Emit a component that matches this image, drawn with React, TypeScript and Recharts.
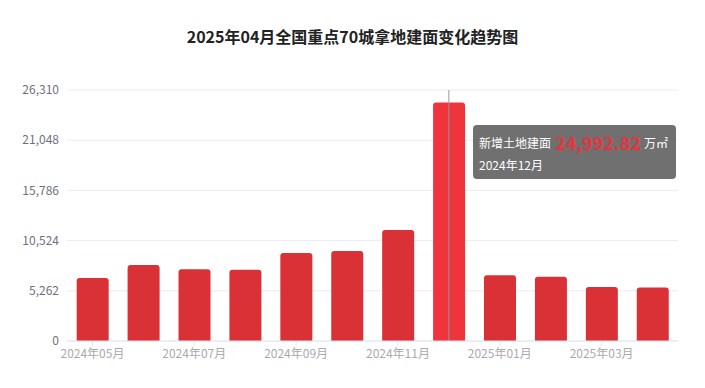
import React from 'react';
import { BarChart, Bar, XAxis, YAxis, CartesianGrid, Tooltip, Cell, ReferenceLine } from 'recharts';

// 月份与新增土地建面（万㎡）
const months = [
  '2024年05月', '2024年06月', '2024年07月', '2024年08月', '2024年09月', '2024年10月',
  '2024年11月', '2024年12月', '2025年01月', '2025年02月', '2025年03月', '2025年04月',
];
const areas = [6600, 7960, 7510, 7480, 9220, 9430, 11630, 24992.82, 6880, 6740, 5660, 5620];
const yTicks = [0, 5262, 10524, 15786, 21048, 26310];

const activeIndex = 7;
const FONT = '"Noto Sans CJK SC", "Noto Sans", sans-serif';

const data = months.map((m, i) => ({ month: m, value: areas[i] }));

const TipContent = ({ active, payload }: any) => {
  if (!active || !payload || !payload.length) return null;
  const item = payload[0].payload;
  return (
    <div
      style={{
        background: '#707070',
        borderRadius: 4,
        padding: '7px 6px 6px 6px',
        color: '#fff',
        fontFamily: FONT,
        whiteSpace: 'nowrap',
        width: 191,
      }}
    >
      <div style={{ display: 'flex', alignItems: 'center', height: 20 }}>
        <span style={{ fontSize: 12 }}>新增土地建面</span>
        <span style={{ fontSize: 18, fontWeight: 700, color: '#e8333b', margin: '0 3px 0 4px', lineHeight: '20px' }}>
          {item.value.toLocaleString('en-US', { minimumFractionDigits: 2 })}
        </span>
        <span style={{ fontSize: 12 }}>万㎡</span>
      </div>
      <div style={{ fontSize: 12, marginTop: 5, lineHeight: '16px' }}>{item.month}</div>
    </div>
  );
};

export default function App() {
  return (
    <div style={{ position: 'absolute', left: 0, top: 0, width: 705, height: 388, background: '#fff' }}>
      <div
        style={{
          position: 'absolute',
          top: 24,
          left: 0,
          width: 705,
          textAlign: 'center',
          fontFamily: FONT,
          fontSize: 16,
          fontWeight: 700,
          color: '#222',
          lineHeight: '24px',
        }}
      >
        2025年04月全国重点70城拿地建面变化趋势图
      </div>
      <BarChart
        width={705}
        height={388}
        data={data}
        margin={{ top: 90, right: 27, left: 0, bottom: 17 }}
        barCategoryGap="19%"
        style={{ fontFamily: FONT }}
      >
        <CartesianGrid vertical={false} stroke="#e9ecf3" />
        <XAxis
          dataKey="month"
          interval={1}
          height={30}
          axisLine={{ stroke: '#e0e6f1' }}
          tickLine={{ stroke: '#e0e6f1' }}
          tickSize={5}
          tickMargin={3}
          tick={{ fill: '#aaaaaa', fontSize: 12 }}
        />
        <YAxis
          width={67}
          domain={[0, 26310]}
          ticks={yTicks}
          axisLine={false}
          tickLine={false}
          tickSize={0}
          tickMargin={8}
          tickFormatter={(v: number) => v.toLocaleString('en-US')}
          tick={{ fill: '#6e7079', fontSize: 12 }}
        />
        <Tooltip
          active
          defaultIndex={activeIndex}
          cursor={false}
          content={<TipContent />}
          position={{ x: 473, y: 125 }}
          isAnimationActive={false}
          wrapperStyle={{ outline: 'none' }}
        />
        <Bar dataKey="value" radius={[3, 3, 0, 0]} isAnimationActive={false} activeBar={false}>
          {data.map((d, i) => (
            <Cell key={d.month} fill={i === activeIndex ? '#ee353c' : '#da3136'} />
          ))}
        </Bar>
        <ReferenceLine x={months[activeIndex]} stroke="#999" strokeWidth={1} />
      </BarChart>
    </div>
  );
}
